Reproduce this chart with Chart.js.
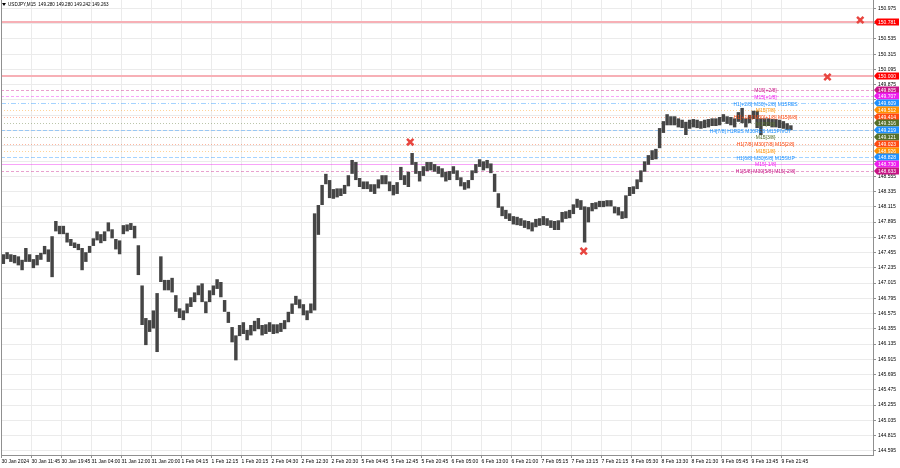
<!DOCTYPE html>
<html>
<head>
<meta charset="utf-8">
<script src="https://cdn.jsdelivr.net/npm/chart.js@4.4.1/dist/chart.umd.min.js"></script>
<style>
  html, body { margin: 0; padding: 0; background: #fff; }
  #wrap { width: 900px; height: 468px; }
</style>
</head>
<body>
<div id="wrap"><canvas id="chart" width="900" height="468"></canvas></div>
<script>
// USDJPY M15 — one range per hour (4 bars of 15 min)
const barsPerPoint = 4;
const barsPerLabel = 32;

const highs = [
  147.43, 147.46, 147.43, 147.42, 147.40, 147.35, 147.52, 147.43, 147.36, 147.42,
  147.45, 147.55, 147.50, 147.69, 147.91, 147.84, 147.84, 147.74, 147.65, 147.60,
  147.58, 147.52, 147.46, 147.55, 147.66, 147.76, 147.72, 147.76, 147.89, 147.79,
  147.65, 147.63, 147.85, 147.86, 147.88, 147.84, 147.56, 146.98, 146.51, 146.48,
  146.62, 146.87, 147.40, 147.06, 147.06, 147.09, 146.84, 146.65, 146.62, 146.72,
  146.81, 146.88, 146.98, 147.01, 146.75, 146.91, 146.98, 147.07, 147.03, 146.77,
  146.60, 146.38, 146.26, 146.41, 146.45, 146.34, 146.41, 146.47, 146.51, 146.41,
  146.42, 146.45, 146.42, 146.42, 146.44, 146.48, 146.60, 146.72, 146.83, 146.78,
  146.71, 146.62, 146.72, 148.02, 148.14, 148.43, 148.59, 148.50, 148.37, 148.38,
  148.38, 148.43, 148.57, 148.79, 148.76, 148.53, 148.48, 148.48, 148.44, 148.44,
  148.51, 148.57, 148.57, 148.48, 148.43, 148.47, 148.69, 148.57, 148.62, 148.89,
  148.76, 148.63, 148.70, 148.76, 148.76, 148.73, 148.70, 148.67, 148.62, 148.63,
  148.70, 148.64, 148.54, 148.47, 148.50, 148.64, 148.73, 148.80, 148.77, 148.79,
  148.74, 148.59, 148.31, 148.12, 148.07, 148.02, 147.98, 147.97, 147.95, 147.92,
  147.91, 147.89, 147.94, 147.95, 147.98, 147.95, 147.92, 147.91, 147.92, 148.04,
  148.05, 148.07, 148.15, 148.23, 148.21, 148.12, 148.11, 148.17, 148.18, 148.20,
  148.20, 148.21, 148.21, 148.12, 148.11, 148.05, 148.28, 148.40, 148.41, 148.51,
  148.64, 148.77, 148.86, 148.93, 148.95, 149.25, 149.35, 149.45, 149.42, 149.42,
  149.39, 149.37, 149.34, 149.37, 149.38, 149.37, 149.35, 149.37, 149.38, 149.39,
  149.39, 149.41, 149.45, 149.42, 149.41, 149.39, 149.48, 149.54, 149.39, 149.44,
  149.50, 149.50, 149.39, 149.39, 149.39, 149.38, 149.38, 149.37, 149.35, 149.32, 149.29
];
const lows = [
  147.29, 147.36, 147.32, 147.30, 147.27, 147.20, 147.32, 147.32, 147.23, 147.27,
  147.35, 147.43, 147.32, 147.10, 147.76, 147.72, 147.72, 147.60, 147.55, 147.52,
  147.49, 147.20, 147.32, 147.45, 147.55, 147.63, 147.59, 147.62, 147.76, 147.66,
  147.50, 147.43, 147.72, 147.76, 147.78, 147.66, 147.13, 146.41, 146.12, 146.31,
  146.36, 146.02, 147.03, 146.91, 146.91, 146.88, 146.60, 146.51, 146.48, 146.58,
  146.67, 146.74, 146.84, 146.74, 146.58, 146.74, 146.84, 146.93, 146.81, 146.60,
  146.44, 146.16, 145.90, 146.25, 146.28, 146.19, 146.26, 146.32, 146.35, 146.26,
  146.28, 146.31, 146.28, 146.29, 146.31, 146.35, 146.45, 146.57, 146.70, 146.65,
  146.55, 146.48, 146.58, 146.62, 147.71, 148.14, 148.44, 148.24, 148.23, 148.25,
  148.27, 148.30, 148.41, 148.59, 148.50, 148.40, 148.37, 148.37, 148.33, 148.30,
  148.38, 148.44, 148.44, 148.34, 148.28, 148.30, 148.50, 148.43, 148.40, 148.72,
  148.59, 148.48, 148.56, 148.63, 148.64, 148.62, 148.59, 148.54, 148.48, 148.50,
  148.59, 148.50, 148.41, 148.36, 148.38, 148.50, 148.60, 148.69, 148.64, 148.67,
  148.60, 148.33, 148.10, 147.98, 147.94, 147.91, 147.86, 147.85, 147.84, 147.81,
  147.79, 147.76, 147.82, 147.84, 147.85, 147.84, 147.81, 147.78, 147.78, 147.89,
  147.94, 147.95, 148.01, 148.10, 148.07, 147.60, 147.89, 148.05, 148.08, 148.11,
  148.11, 148.12, 148.12, 148.02, 147.99, 147.94, 147.95, 148.27, 148.30, 148.37,
  148.47, 148.62, 148.72, 148.79, 148.80, 148.96, 149.18, 149.29, 149.29, 149.29,
  149.26, 149.25, 149.15, 149.24, 149.26, 149.25, 149.24, 149.25, 149.26, 149.28,
  149.28, 149.29, 149.34, 149.31, 149.29, 149.26, 149.34, 149.32, 149.26, 149.32,
  149.38, 149.25, 149.15, 149.28, 149.28, 149.26, 149.26, 149.25, 149.24, 149.22, 149.22
];

const timeLabels = [
  '30 Jan 2024', '30 Jan 11:45', '30 Jan 19:45', '31 Jan 04:00', '31 Jan 12:00', '31 Jan 20:00',
  '1 Feb 04:15', '1 Feb 12:15', '1 Feb 20:15', '2 Feb 04:30', '2 Feb 12:30', '2 Feb 20:30',
  '5 Feb 04:45', '5 Feb 12:45', '5 Feb 20:45', '6 Feb 05:00', '6 Feb 13:00', '6 Feb 21:00',
  '7 Feb 05:15', '7 Feb 13:15', '7 Feb 21:15', '8 Feb 05:30', '8 Feb 13:30', '8 Feb 21:30',
  '9 Feb 05:45', '9 Feb 13:45', '9 Feb 21:45'
];

const priceTicks = [
  144.595, 144.815, 145.035, 145.255, 145.475, 145.695, 145.915, 146.135, 146.355, 146.575,
  146.795, 147.015, 147.235, 147.455, 147.675, 147.895, 148.115, 148.335, 148.555, 148.775,
  148.995, 149.215, 149.435, 149.655, 149.875, 150.095, 150.315, 150.535, 150.755, 150.975
];

// Murrey math levels (M15 octave, top to bottom)
const murreyPrices = [149.805, 149.707, 149.609, 149.512, 149.414, 149.316, 149.219, 149.121, 149.023, 148.926, 148.828, 148.730, 148.633];
const murreyNames = [
  'M15[+2/8]', 'M15[+1/8]', 'H1[+2/8] M30[+2/8] M15RES', 'M15[7/8]', 'H1[+1/8] M30[+1/8] M15[6/8]',
  'M15[5/8]', 'H4[7/8] H1RES M30RES M15PIVOT', 'M15[3/8]', 'H1[7/8] M30[7/8] M15[2/8]', 'M15[1/8]',
  'H1[6/8] M30[6/8] M15SUP', 'M15[-1/8]', 'H1[5/8] M30[5/8] M15[-2/8]'
];
const murreyColors = ['#c71585', '#ee1cee', '#1e90ff', '#ff9000', '#ff4a12', '#55702a', '#1e90ff', '#55702a', '#ff4a12', '#ff9000', '#1e90ff', '#ee1cee', '#c71585'];
const murreyDash = [[3, 2], [3, 2], [5, 2, 1, 2], [1, 2], [1, 2], [1, 2], [4, 2], [1, 2], [1, 2], [1, 2], [4, 2], [], [3, 2]];

const alertLines = [150.781, 150.000];
const crossBars = [436, 621, 881, 916];
const crossPrices = [149.048, 147.475, 149.986, 150.808];
const quoteText = 'USDJPY,M15  149.280 149.280 149.242 149.263';

const boxPrices = alertLines.concat(murreyPrices);
const smallFont = '5px "Liberation Sans", Arial, sans-serif';

const mtOverlay = {
  id: 'mtOverlay',
  beforeDatasetsDraw(chart) {
    const { ctx, chartArea: a, scales: { y } } = chart;
    ctx.save();
    ctx.beginPath();
    ctx.rect(a.left, a.top, a.right - a.left, a.bottom - a.top);
    ctx.clip();
    // murrey levels
    murreyPrices.forEach((p, i) => {
      const py = Math.round(y.getPixelForValue(p)) + 0.5;
      ctx.globalAlpha = 0.4;
      ctx.strokeStyle = murreyColors[i];
      ctx.lineWidth = 1;
      ctx.setLineDash(murreyDash[i]);
      ctx.beginPath();
      ctx.moveTo(a.left, py);
      ctx.lineTo(a.right, py);
      ctx.stroke();
    });
    // alert lines
    ctx.globalAlpha = 1;
    ctx.setLineDash([]);
    alertLines.forEach(p => {
      const py = Math.round(y.getPixelForValue(p));
      ctx.strokeStyle = '#f7b0b6';
      ctx.lineWidth = 2;
      ctx.beginPath();
      ctx.moveTo(a.left, py);
      ctx.lineTo(a.right, py);
      ctx.stroke();
    });
    ctx.restore();
  },
  afterDraw(chart) {
    const { ctx, chartArea: a, scales: { x, y } } = chart;
    ctx.save();

    // level captions on the chart
    ctx.font = smallFont;
    ctx.textAlign = 'center';
    ctx.textBaseline = 'middle';
    murreyNames.forEach((name, i) => {
      const cx = x.getPixelForValue(name.includes('PIVOT') ? 799 : 815);
      ctx.fillStyle = murreyColors[i];
      ctx.fillText(name, cx, y.getPixelForValue(murreyPrices[i]) + 1);
    });

    // price boxes on the axis
    ctx.textAlign = 'left';
    boxPrices.forEach((p, i) => {
      const py = Math.round(y.getPixelForValue(p));
      const color = i < alertLines.length ? '#ff0000' : murreyColors[i - alertLines.length];
      ctx.fillStyle = color;
      ctx.beginPath();
      ctx.moveTo(a.right + 1, py);
      ctx.lineTo(a.right + 4, py - 3.5);
      ctx.lineTo(899, py - 3.5);
      ctx.lineTo(899, py + 3.5);
      ctx.lineTo(a.right + 4, py + 3.5);
      ctx.closePath();
      ctx.fill();
      ctx.fillStyle = '#ffffff';
      ctx.fillText(p.toFixed(3), 878, py + 0.5);
    });

    // left frame
    ctx.strokeStyle = '#909090';
    ctx.lineWidth = 1;
    ctx.beginPath();
    ctx.moveTo(a.left + 0.5, a.top);
    ctx.lineTo(a.left + 0.5, a.bottom);
    ctx.stroke();

    // symbol header
    ctx.fillStyle = '#000';
    ctx.beginPath();
    ctx.moveTo(2, 3);
    ctx.lineTo(6, 3);
    ctx.lineTo(4, 6);
    ctx.closePath();
    ctx.fill();
    ctx.font = '4.6px "Liberation Sans", Arial, sans-serif';
    ctx.textBaseline = 'middle';
    ctx.fillText(quoteText, 8, 5);
    ctx.restore();
  }
};

new Chart(document.getElementById('chart'), {
  type: 'bar',
  data: {
    datasets: [
      {
        type: 'scatter',
        data: crossBars.map((b, i) => ({ x: b, y: crossPrices[i] })),
        pointStyle: 'crossRot',
        radius: 4.5,
        borderColor: '#e8453f',
        borderWidth: 2.5,
        order: 0
      },
      {
        label: 'USDJPY',
        data: highs.map((h, i) => ({ x: i * barsPerPoint + barsPerPoint / 2, y: [lows[i], h] })),
        backgroundColor: '#454545',
        borderWidth: 0,
        barPercentage: 0.92,
        categoryPercentage: 1,
        order: 1
      }
    ]
  },
  plugins: [mtOverlay],
  options: {
    responsive: false,
    animation: false,
    devicePixelRatio: 1,
    layout: { autoPadding: false, padding: { left: 1, top: 0, right: 0, bottom: 0 } },
    plugins: { legend: { display: false }, tooltip: { enabled: false } },
    scales: {
      x: {
        type: 'linear',
        min: -0.5,
        max: 929.6,
        offset: false,
        afterBuildTicks: s => { s.ticks = timeLabels.map((_, k) => ({ value: k * barsPerLabel })); },
        afterFit: s => { s.height = 13; s.paddingLeft = 0; s.paddingRight = 0; },
        grid: { color: '#ebebeb', offset: false, tickLength: 3, tickColor: '#909090' },
        border: { color: '#909090' },
        ticks: {
          autoSkip: false,
          maxRotation: 0,
          align: 'start',
          padding: 1,
          color: '#000',
          font: { family: '"Liberation Sans", Arial, sans-serif', size: 5 },
          callback: v => timeLabels[Math.round(v / barsPerLabel)] ?? ''
        }
      },
      y: {
        position: 'right',
        min: 144.535,
        max: 151.097,
        afterBuildTicks: s => { s.ticks = priceTicks.map(v => ({ value: v })); },
        afterFit: s => { s.width = 27; s.paddingTop = 0; s.paddingBottom = 0; },
        grid: { color: '#ebebeb', tickLength: 3, tickColor: '#909090' },
        border: { color: '#909090' },
        ticks: {
          padding: 2,
          color: '#000',
          font: { family: '"Liberation Sans", Arial, sans-serif', size: 5 },
          callback: v => boxPrices.some(b => Math.abs(b - v) < 0.06) ? '' : v.toFixed(3)
        }
      }
    }
  }
});
</script>
</body>
</html>
